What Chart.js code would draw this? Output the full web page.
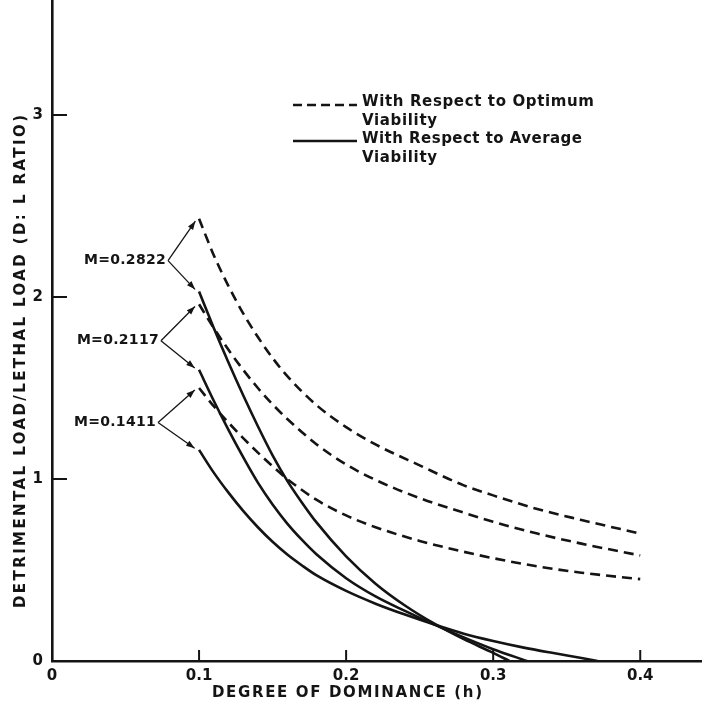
<!DOCTYPE html>
<html>
<head>
<meta charset="utf-8">
<script src="https://cdn.jsdelivr.net/npm/chart.js@4"></script>
<style>
  html, body { margin: 0; padding: 0; background: #fff; overflow: hidden; }
  #wrap { position: relative; width: 702px; height: 707px; }
</style>
</head>
<body>
<div id="wrap"><canvas id="chart"></canvas></div>
<script>
// degree of dominance (h) sample points, dashed curves (optimum viability)
const hOpt = [0.10, 0.11, 0.12, 0.13, 0.14, 0.15, 0.16, 0.18, 0.20, 0.22, 0.25, 0.28, 0.30, 0.33, 0.36, 0.40];
const optHigh = [2.43, 2.23, 2.06, 1.91, 1.78, 1.665, 1.565, 1.405, 1.285, 1.19, 1.075, 0.965, 0.91, 0.835, 0.775, 0.70];
const optMid  = [1.96, 1.83, 1.71, 1.60, 1.50, 1.41, 1.33, 1.19, 1.08, 0.995, 0.895, 0.815, 0.765, 0.70, 0.645, 0.58];
const optLow  = [1.50, 1.40, 1.31, 1.225, 1.145, 1.07, 1.00, 0.885, 0.80, 0.735, 0.66, 0.60, 0.565, 0.52, 0.485, 0.45];

// solid curves (average viability), each runs down to zero
const hAvgHigh = [0.10, 0.11, 0.12, 0.13, 0.14, 0.15, 0.16, 0.17, 0.18, 0.20, 0.22, 0.24, 0.26, 0.28, 0.30, 0.311];
const avgHigh  = [2.03, 1.83, 1.64, 1.46, 1.29, 1.13, 0.99, 0.87, 0.76, 0.575, 0.425, 0.305, 0.205, 0.12, 0.045, 0];
const hAvgMid  = [0.10, 0.11, 0.12, 0.13, 0.14, 0.15, 0.16, 0.17, 0.18, 0.20, 0.22, 0.24, 0.26, 0.28, 0.30, 0.323];
const avgMid   = [1.60, 1.43, 1.27, 1.12, 0.98, 0.86, 0.755, 0.665, 0.585, 0.455, 0.355, 0.275, 0.20, 0.13, 0.065, 0];
const hAvgLow  = [0.10, 0.11, 0.12, 0.13, 0.14, 0.15, 0.16, 0.17, 0.18, 0.20, 0.22, 0.24, 0.26, 0.28, 0.30, 0.32, 0.34, 0.36, 0.371];
const avgLow   = [1.16, 1.035, 0.925, 0.825, 0.735, 0.655, 0.585, 0.525, 0.47, 0.385, 0.315, 0.255, 0.20, 0.15, 0.11, 0.075, 0.045, 0.017, 0];

const xTicks = [0, 0.1, 0.2, 0.3, 0.4];
const yTicks = [0, 1, 2, 3];
const mLabels = ['M=0.2822', 'M=0.2117', 'M=0.1411'];
const legendLines = [['With Respect to Optimum', 'Viability'], ['With Respect to Average', 'Viability']];
const xTitle = 'DEGREE OF DOMINANCE (h)';
const yTitle = 'DETRIMENTAL LOAD/LETHAL LOAD (D: L RATIO)';

const INK = '#141414';
const FONT = '"DejaVu Sans", sans-serif';

const pairs = (xs, ys) => xs.map((x, i) => ({ x, y: ys[i] }));

function curve(xs, ys, dashed) {
    return {
        data: pairs(xs, ys),
        borderColor: INK,
        borderWidth: 2.6,
        borderDash: dashed ? [10, 6] : [],
        pointRadius: 0,
        cubicInterpolationMode: 'monotone',
        fill: false
    };
}

// draws text so that it spans the given width, like the stencil lettering
function spacedText(ctx, text, x, y, width) {
    ctx.letterSpacing = '0px';
    const base = ctx.measureText(text).width;
    const gap = (width - base) / Math.max(1, text.length - 1);
    ctx.letterSpacing = gap + 'px';
    ctx.fillText(text, x, y);
    ctx.letterSpacing = '0px';
}

function arrow(ctx, x1, y1, x2, y2) {
    const ang = Math.atan2(y2 - y1, x2 - x1);
    const ex = x2 - Math.cos(ang) * 3, ey = y2 - Math.sin(ang) * 3;
    ctx.beginPath();
    ctx.moveTo(x1, y1);
    ctx.lineTo(ex, ey);
    ctx.stroke();
    ctx.beginPath();
    ctx.moveTo(ex, ey);
    ctx.lineTo(ex - Math.cos(ang - 0.35) * 9, ey - Math.sin(ang - 0.35) * 9);
    ctx.lineTo(ex - Math.cos(ang + 0.35) * 9, ey - Math.sin(ang + 0.35) * 9);
    ctx.closePath();
    ctx.fill();
}

const overlay = {
    id: 'overlay',
    afterDraw(chart) {
        const { ctx, chartArea, scales: { x, y } } = chart;
        ctx.save();
        ctx.strokeStyle = INK;
        ctx.fillStyle = INK;
        ctx.setLineDash([]);

        // inward tick marks
        ctx.lineWidth = 2;
        xTicks.slice(1).forEach((v) => {
            const px = x.getPixelForValue(v);
            ctx.beginPath();
            ctx.moveTo(px, chartArea.bottom);
            ctx.lineTo(px, chartArea.bottom - 11);
            ctx.stroke();
        });
        yTicks.slice(1).forEach((v) => {
            const py = y.getPixelForValue(v);
            ctx.beginPath();
            ctx.moveTo(chartArea.left, py);
            ctx.lineTo(chartArea.left + 15, py);
            ctx.stroke();
        });

        // M labels with bracket arrows to the start of each pair of curves
        const groups = [
            { vertex: [0.0789, 2.20], targets: [[hOpt, optHigh], [hAvgHigh, avgHigh]] },
            { vertex: [0.0741, 1.76], targets: [[hOpt, optMid], [hAvgMid, avgMid]] },
            { vertex: [0.0721, 1.31], targets: [[hOpt, optLow], [hAvgLow, avgLow]] }
        ];
        ctx.font = `bold 14px ${FONT}`;
        ctx.textBaseline = 'middle';
        groups.forEach((g, i) => {
            const vx = x.getPixelForValue(g.vertex[0]);
            const vy = y.getPixelForValue(g.vertex[1]);
            ctx.textAlign = 'right';
            ctx.letterSpacing = '0.3px';
            ctx.fillText(mLabels[i], vx - 2, vy);
            ctx.letterSpacing = '0px';
            ctx.lineWidth = 1.3;
            g.targets.forEach(([hs, vs]) => {
                arrow(ctx, vx, vy, x.getPixelForValue(hs[0]) - 2, y.getPixelForValue(vs[0]));
            });
        });

        // legend
        ctx.textAlign = 'left';
        ctx.font = `bold 15px ${FONT}`;
        ctx.lineWidth = 2.6;
        ctx.setLineDash([9, 5]);
        ctx.beginPath();
        ctx.moveTo(293, 105);
        ctx.lineTo(357, 105);
        ctx.stroke();
        ctx.setLineDash([]);
        ctx.beginPath();
        ctx.moveTo(293, 141);
        ctx.lineTo(357, 141);
        ctx.stroke();
        spacedText(ctx, legendLines[0][0], 362, 102, 232);
        spacedText(ctx, legendLines[0][1], 362, 121, 75);
        spacedText(ctx, legendLines[1][0], 362, 139, 220);
        spacedText(ctx, legendLines[1][1], 362, 158, 75);

        // axis titles
        spacedText(ctx, xTitle, 212, 693, 270);
        ctx.translate(21, 608);
        ctx.rotate(-Math.PI / 2);
        spacedText(ctx, yTitle, 0, 0, 493);
        ctx.restore();
    }
};

new Chart(document.getElementById('chart'), {
    type: 'line',
    data: {
        datasets: [
            curve(hOpt, optHigh, true),
            curve(hOpt, optMid, true),
            curve(hOpt, optLow, true),
            curve(hAvgHigh, avgHigh, false),
            curve(hAvgMid, avgMid, false),
            curve(hAvgLow, avgLow, false)
        ]
    },
    options: {
        responsive: true,
        maintainAspectRatio: false,
        animation: false,
        layout: { padding: 0 },
        plugins: { legend: { display: false }, tooltip: { enabled: false } },
        scales: {
            x: {
                type: 'linear',
                min: 0,
                max: 0.442,
                afterFit: (s) => { s.height = 46; s.paddingLeft = 0; s.paddingRight = 0; },
                afterBuildTicks: (s) => { s.ticks = xTicks.map((v) => ({ value: v })); },
                grid: { display: false, drawTicks: false },
                border: { display: true, color: INK, width: 2.6 },
                ticks: {
                    padding: 6,
                    color: INK,
                    font: { family: FONT, weight: 'bold', size: 15 },
                    callback: (v) => (v === 0 ? '0' : v.toFixed(1))
                }
            },
            y: {
                type: 'linear',
                min: 0,
                max: 3.632,
                afterFit: (s) => { s.width = 52; s.paddingTop = 0; s.paddingBottom = 0; },
                afterBuildTicks: (s) => { s.ticks = yTicks.map((v) => ({ value: v })); },
                grid: { display: false, drawTicks: false },
                border: { display: true, color: INK, width: 2.6 },
                ticks: {
                    padding: 9,
                    color: INK,
                    font: { family: FONT, weight: 'bold', size: 15 },
                    callback: (v) => String(v)
                }
            }
        }
    },
    plugins: [overlay]
});
</script>
</body>
</html>
